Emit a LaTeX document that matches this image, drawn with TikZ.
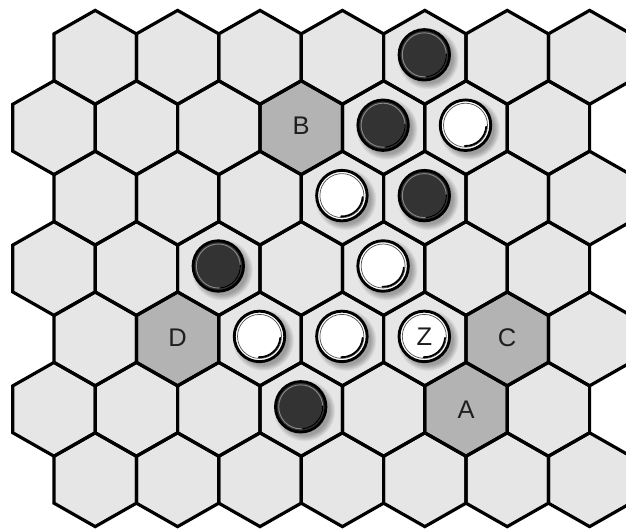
\documentclass[tikz,border=0pt]{standalone}
\usepackage{fontspec}
\setmainfont{Liberation Sans}
\definecolor{hexfill}{HTML}{E6E6E6}
\definecolor{markfill}{HTML}{B3B3B3}
\definecolor{stoneblack}{HTML}{333333}
\definecolor{labeltext}{HTML}{1E1E1E}
\definecolor{ringblack}{HTML}{8A8A8A}
\definecolor{ringwhite}{HTML}{505050}
\newcommand\hw{41.2}
\newcommand\hr{46.9}
\newcommand\hexat[2]{%
  \path[#1,shift={(#2)}] (0,-\hr) -- (\hw,-\hr/2) -- (\hw,\hr/2) -- (0,\hr) -- (-\hw,\hr/2) -- (-\hw,-\hr/2) -- cycle;}
\newcommand\stoneshadow{%
  \foreach \i in {0,...,7}{\fill[black,opacity=0.045] (4,4) circle ({30.5-0.8*\i});}}
\newcommand\blackstone[2]{%
  \begin{scope}[shift={(#2)},shift={(-0.5,-2.5)}]
    \stoneshadow
    \node[stoneB] (#1) at (0,0) {};
    \draw[ringB] (0,0) circle (22);
    \draw[creB] (-2:22) arc (-2:85:22);
  \end{scope}}
\newcommand\whitestone[3]{%
  \begin{scope}[shift={(#2)},shift={(-0.5,-2.5)}]
    \stoneshadow
    \node[stoneW] (#1) at (0,0) {};
    \draw[ringW] (0,0) circle (22);
    \draw[creW] (4:20.8) arc (4:92:20.8);
    \node[lbl] (#1t) at (0,0) {#3};
  \end{scope}}
\begin{document}
\begin{tikzpicture}[x=1pt,y=-1pt,line join=miter,
  hexbase/.style={fill=hexfill},
  hexmark/.style={fill=markfill},
  hexline/.style={draw=black,line width=3.2pt},
  stoneB/.style={circle,draw=black,line width=2.8pt,fill=stoneblack,minimum size=50.5pt,inner sep=0pt},
  stoneW/.style={circle,draw=black,line width=2.9pt,fill=white,minimum size=50.5pt,inner sep=0pt},
  ringB/.style={draw=ringblack,line width=0.9pt},
  ringW/.style={draw=ringwhite,line width=0.7pt},
  creB/.style={draw=black,line width=1.2pt,line cap=round},
  creW/.style={draw=black,line width=1.8pt,line cap=round},
  lbl/.style={font=\fontsize{25.5}{30}\selectfont,text=labeltext,inner sep=0pt}]
\useasboundingbox (0,0) rectangle (626,531);
\fill[white] (0,0) rectangle (626,531);
% hex centres
\foreach \r in {0,...,6}{
  \pgfmathsetmacro\yc{57.3+\r*70.4}
  \pgfmathsetmacro\xs{isodd(\r) ? 54 : 95.2}
  \foreach \k in {0,...,6}{
    \pgfmathsetmacro\xc{\xs+\k*82.4}
    \coordinate (h\r\k) at (\xc,\yc);
  }
}
% fills
\foreach \r in {0,...,6}{\foreach \k in {0,...,6}{\hexat{hexbase}{h\r\k}}}
\foreach \c in {h13,h41,h45,h55}{\hexat{hexmark}{\c}}
% outlines
\foreach \r in {0,...,6}{\foreach \k in {0,...,6}{\hexat{hexline}{h\r\k}}}
% labels on marked cells
\node[lbl,yshift=1.5pt] (labB) at (h13) {B};
\node[lbl,yshift=1.5pt] (labD) at (h41) {D};
\node[lbl,yshift=1.5pt] (labC) at (h45) {C};
\node[lbl,yshift=0pt] (labA) at (h55) {A};
% black stones
\blackstone{b04}{h04}
\blackstone{b14}{h14}
\blackstone{b24}{h24}
\blackstone{b32}{h32}
\blackstone{b53}{h53}
% white stones
\whitestone{w15}{h15}{}
\whitestone{w23}{h23}{}
\whitestone{w34}{h34}{}
\whitestone{w42}{h42}{}
\whitestone{w43}{h43}{}
\whitestone{w44}{h44}{Z}
\end{tikzpicture}
\end{document}
